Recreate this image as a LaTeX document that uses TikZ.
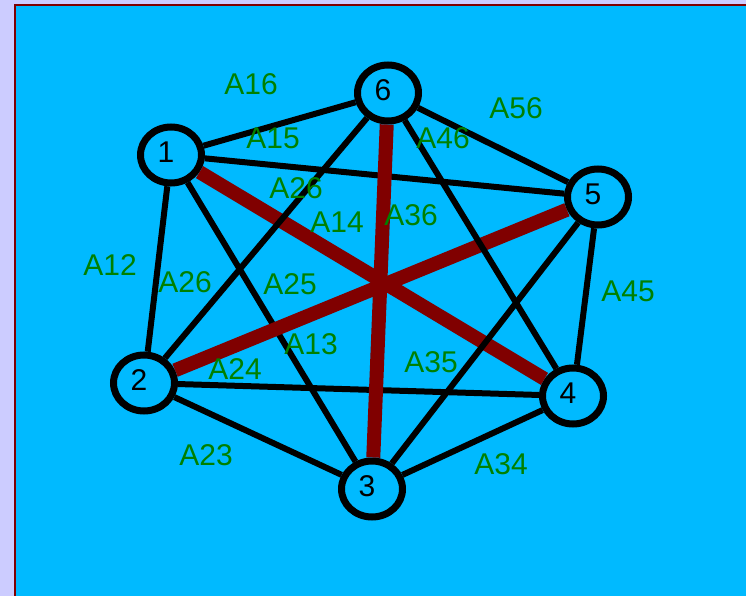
\documentclass[tikz,border=0pt]{standalone}
\usepackage{fontspec}
\setmainfont{Liberation Sans}
\usepackage{tikz}
\usetikzlibrary{shapes.geometric}
\definecolor{lilac}{RGB}{204,204,255}
\definecolor{sky}{RGB}{0,186,255}
\definecolor{blood}{RGB}{128,0,0}
\definecolor{leaf}{RGB}{0,128,0}
\tikzset{
  vertex/.style={ellipse,draw=black,line width=7pt,fill=sky,minimum width=61pt,
    minimum height=56pt,inner sep=0pt},
  digit/.style={font=\fontsize{30}{34}\selectfont,inner sep=0pt,xshift=-5pt,yshift=3pt},
  wire/.style={line width=6pt,black},
  matched/.style={line width=14pt,blood},
  tag/.style={font=\fontsize{30}{36}\selectfont,text=leaf,inner sep=0pt}
}

\begin{document}
\begin{tikzpicture}[x=1pt,y=-1pt]
  \useasboundingbox (0,0) rectangle (746,596);
  \fill[lilac] (0,0) rectangle (746,596);
  \filldraw[fill=sky,draw=blood,line width=2pt] (15,5) rectangle (760,610);
  % vertices
  \node[vertex,label={[digit]center:1}] (v1) at (171,155) {};
  \node[vertex,label={[digit]center:2}] (v2) at (144,383) {};
  \node[vertex,label={[digit]center:3}] (v3) at (372,489) {};
  \node[vertex,label={[digit]center:4}] (v4) at (573,396) {};
  \node[vertex,label={[digit]center:5}] (v5) at (598,197) {};
  \node[vertex,label={[digit]center:6}] (v6) at (388,93) {};
  % edges
  \draw[wire] (v1)--(v2);
  \draw[wire] (v1)--(v3);
  \draw[matched] (v1)--(v4);
  \draw[wire] (v1)--(v5);
  \draw[wire] (v1)--(v6);
  \draw[wire] (v2)--(v3);
  \draw[wire] (v2)--(v4);
  \draw[matched] (v2)--(v5);
  \draw[wire] (v2)--(v6);
  \draw[wire] (v3)--(v4);
  \draw[wire] (v3)--(v5);
  \draw[matched] (v3)--(v6);
  \draw[wire] (v4)--(v5);
  \draw[wire] (v4)--(v6);
  \draw[wire] (v5)--(v6);
  % weights
  \node[tag] (t16) at (251,84) {A16};
  \node[tag] (t15) at (273,138) {A15};
  \node[tag] (t26a) at (296,188) {A26};
  \node[tag] (t14) at (337,222) {A14};
  \node[tag] (t36) at (411,215) {A36};
  \node[tag] (t46) at (443,138) {A46};
  \node[tag] (t56) at (516,108) {A56};
  \node[tag] (t12) at (110,265) {A12};
  \node[tag] (t26b) at (185,282) {A26};
  \node[tag] (t25) at (290,284) {A25};
  \node[tag] (t13) at (311,344) {A13};
  \node[tag] (t24) at (235,369) {A24};
  \node[tag] (t35) at (431,362) {A35};
  \node[tag] (t45) at (628,291) {A45};
  \node[tag] (t34) at (501,464) {A34};
  \node[tag] (t23) at (206,455) {A23};
\end{tikzpicture}
\end{document}
